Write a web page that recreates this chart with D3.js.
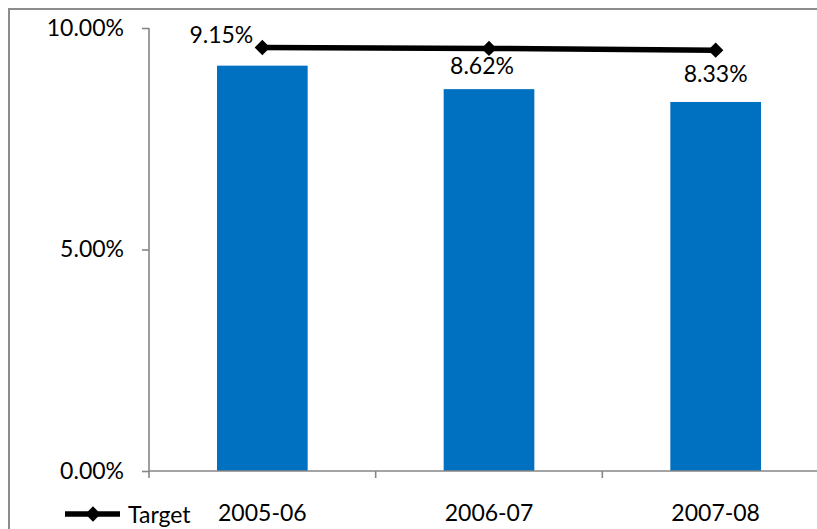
<!DOCTYPE html>
<html>
<head>
<meta charset="utf-8">
<script src="https://cdn.jsdelivr.net/npm/d3@7"></script>
<style>
  html, body { margin: 0; padding: 0; background: #fff; }
  svg { display: block; }
  text { font-family: Lato, "Open Sans", sans-serif; fill: #000; }
</style>
</head>
<body>
<svg id="chart" width="817" height="529"></svg>
<script>
// Yearly rate vs. target
const years = ["2005-06", "2006-07", "2007-08"];
const actual = [9.15, 8.62, 8.33];
const target = [9.56, 9.54, 9.50];
const yTicks = [0, 5, 10];
const seriesName = "Target";

const W = 817, H = 529;
const plot = { left: 149, right: 829, top: 28, bottom: 471 };
const axisColor = "#868686";
const barColor = "#0070C0";
const fontSize = 23;

const svg = d3.select("#chart");

// outer chart frame (runs off the right and bottom edges)
svg.append("rect")
  .attr("x", 9).attr("y", 9)
  .attr("width", W + 40).attr("height", H + 40)
  .attr("fill", "none")
  .attr("stroke", "#8c8c8c")
  .attr("stroke-width", 2);

const x = d3.scaleBand().domain(years).range([plot.left, plot.right]).padding(0);
const y = d3.scaleLinear().domain([0, 10]).range([plot.bottom, plot.top]);
const barW = x.bandwidth() * 0.4;

// bars
svg.append("g").selectAll("rect")
  .data(years)
  .join("rect")
  .attr("x", (d) => x(d) + x.bandwidth() / 2 - barW / 2)
  .attr("y", (d, i) => y(actual[i]))
  .attr("width", barW)
  .attr("height", (d, i) => y(0) - y(actual[i]))
  .attr("fill", barColor);

// y axis
const yAxis = svg.append("g")
  .attr("transform", `translate(${plot.left},0)`)
  .call(d3.axisLeft(y).tickValues(yTicks).tickSize(7).tickPadding(18)
    .tickFormat((d) => d3.format(".2f")(d) + "%"));
yAxis.select(".domain").attr("stroke", axisColor).attr("stroke-width", 1.6)
  .attr("d", `M0,${plot.top}V${plot.bottom}`);
yAxis.selectAll(".tick line").attr("stroke", axisColor).attr("stroke-width", 1.6);
yAxis.selectAll(".tick text")
  .attr("font-size", fontSize)
  .attr("font-family", "Lato, sans-serif")
  .attr("fill", "#000");

// x axis with category boundary ticks
const xAxisG = svg.append("g").attr("transform", `translate(0,${plot.bottom})`);
xAxisG.append("line")
  .attr("x1", plot.left).attr("x2", plot.right)
  .attr("stroke", axisColor).attr("stroke-width", 1.6);
const bounds = years.map((d) => x(d)).concat([x(years[years.length - 1]) + x.bandwidth()]);
xAxisG.selectAll("line.bound")
  .data(bounds)
  .join("line")
  .attr("class", "bound")
  .attr("x1", (d) => d).attr("x2", (d) => d)
  .attr("y1", 0).attr("y2", 7)
  .attr("stroke", axisColor).attr("stroke-width", 1.6);
xAxisG.selectAll("text")
  .data(years)
  .join("text")
  .attr("x", (d) => x(d) + x.bandwidth() / 2)
  .attr("y", 50)
  .attr("text-anchor", "middle")
  .attr("font-size", fontSize)
  .text((d) => d);

// target line with diamond markers
const cx = (d, i) => x(years[i]) + x.bandwidth() / 2;
const line = d3.line().x((d, i) => cx(d, i)).y((d) => y(d));
svg.append("path")
  .datum(target)
  .attr("d", line)
  .attr("fill", "none")
  .attr("stroke", "#000")
  .attr("stroke-width", 5.5);
const diamond = d3.symbol().type(d3.symbolDiamond2).size(150);
svg.append("g").selectAll("path")
  .data(target)
  .join("path")
  .attr("transform", (d, i) => `translate(${cx(d, i)},${y(d)})`)
  .attr("d", diamond)
  .attr("fill", "#000");

// value labels above the bars
const labelNudge = [[-41, -23], [-7, -15], [0, -20]];
svg.append("g").selectAll("text")
  .data(actual)
  .join("text")
  .attr("x", (d, i) => cx(d, i) + labelNudge[i][0])
  .attr("y", (d, i) => y(d) + labelNudge[i][1])
  .attr("text-anchor", "middle")
  .attr("font-size", fontSize)
  .text((d) => d3.format(".2f")(d) + "%");

// legend
const lg = svg.append("g").attr("transform", "translate(65,514)");
lg.append("line").attr("x1", 0).attr("x2", 55)
  .attr("stroke", "#000").attr("stroke-width", 5.5);
lg.append("path").attr("transform", "translate(28,0)").attr("d", diamond).attr("fill", "#000");
lg.append("text").attr("x", 63).attr("y", 9)
  .attr("font-size", fontSize)
  .text(seriesName);
</script>
</body>
</html>
